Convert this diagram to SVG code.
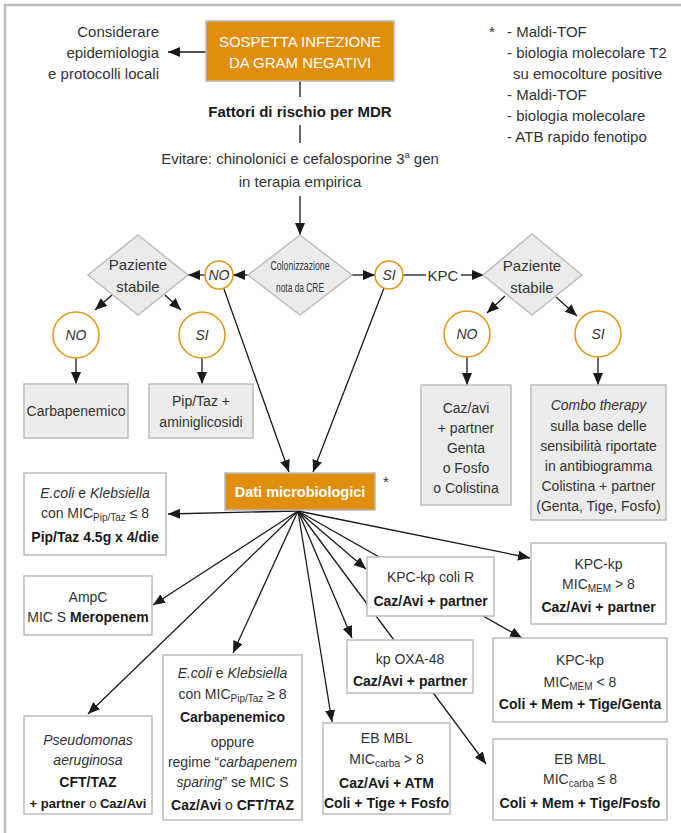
<svg xmlns="http://www.w3.org/2000/svg" width="681" height="833" viewBox="0 0 681 833">
<defs>
<style>
.t{font-family:"Liberation Sans",Arial,sans-serif;font-size:14px;fill:#333;text-anchor:middle}
.s{font-size:15px}
.b{font-weight:bold;fill:#1a1a1a}
.i{font-style:italic}
.w{fill:#fff}
.sub{font-size:10px}
.box{fill:#fff;stroke:#bdbdbd;stroke-width:1.5}
.gbox{fill:#ececec;stroke:#bdbdbd;stroke-width:1.5}
.obox{fill:#E08E0B;stroke:#b8b8b8;stroke-width:1.5}
.circ{fill:#fff;stroke:#E39A1C;stroke-width:1.6}
.dia{fill:#ebebeb;stroke:#bdbdbd;stroke-width:1.5}
.ln{stroke:#1a1a1a;stroke-width:1.3;fill:none}
.frame{stroke:#bdbdbd;stroke-width:2.5;fill:none}
</style>
<marker id="ah" viewBox="0 0 12 10" refX="12" refY="5" markerWidth="12" markerHeight="10" markerUnits="userSpaceOnUse" orient="auto">
<path d="M0,0 L12,5 L0,10 z" fill="#1a1a1a"/>
</marker>
</defs>

<path class="frame" d="M5,833 L5,5 L681,5"/>

<g id="connectors">
<line class="ln" x1="206" y1="52" x2="168" y2="52" marker-end="url(#ah)"/>
<line class="ln" x1="300" y1="81" x2="300" y2="97"/>
<line class="ln" x1="300" y1="125" x2="300" y2="143"/>
<line class="ln" x1="300" y1="196" x2="300" y2="235" marker-end="url(#ah)"/>
<line class="ln" x1="248" y1="275" x2="233" y2="275" marker-end="url(#ah)"/>
<line class="ln" x1="205" y1="275" x2="188" y2="275" marker-end="url(#ah)"/>
<line class="ln" x1="352" y1="275" x2="375" y2="275" marker-end="url(#ah)"/>
<line class="ln" x1="403" y1="275" x2="426" y2="275"/>
<line class="ln" x1="461" y1="275" x2="484" y2="275" marker-end="url(#ah)"/>
<line class="ln" x1="112" y1="295" x2="95" y2="310" marker-end="url(#ah)"/>
<line class="ln" x1="165" y1="295" x2="181" y2="310" marker-end="url(#ah)"/>
<line class="ln" x1="505" y1="296" x2="487" y2="313" marker-end="url(#ah)"/>
<line class="ln" x1="556" y1="297" x2="577" y2="316" marker-end="url(#ah)"/>
<line class="ln" x1="76" y1="358" x2="76" y2="384" marker-end="url(#ah)"/>
<line class="ln" x1="202" y1="358" x2="202" y2="384" marker-end="url(#ah)"/>
<line class="ln" x1="467" y1="357" x2="467" y2="385" marker-end="url(#ah)"/>
<line class="ln" x1="598" y1="357" x2="598" y2="385" marker-end="url(#ah)"/>
<line class="ln" x1="219" y1="275" x2="289" y2="472" marker-end="url(#ah)"/>
<line class="ln" x1="389" y1="275" x2="313" y2="472" marker-end="url(#ah)"/>
<line class="ln" x1="298" y1="511" x2="168" y2="514" marker-end="url(#ah)"/>
<line class="ln" x1="298" y1="511" x2="153" y2="605" marker-end="url(#ah)"/>
<line class="ln" x1="298" y1="511" x2="88" y2="714" marker-end="url(#ah)"/>
<line class="ln" x1="298" y1="511" x2="233" y2="653" marker-end="url(#ah)"/>
<line class="ln" x1="298" y1="511" x2="332" y2="722" marker-end="url(#ah)"/>
<line class="ln" x1="298" y1="511" x2="352" y2="638" marker-end="url(#ah)"/>
<line class="ln" x1="298" y1="511" x2="486" y2="764" marker-end="url(#ah)"/>
<line class="ln" x1="298" y1="511" x2="366" y2="569" marker-end="url(#ah)"/>
<line class="ln" x1="298" y1="511" x2="522" y2="638" marker-end="url(#ah)"/>
<line class="ln" x1="298" y1="511" x2="530" y2="558" marker-end="url(#ah)"/>
</g>

<g id="n-start">
<rect class="obox" x="206" y="21" width="188" height="60"/>
<text class="t s w" x="300" y="47">SOSPETTA INFEZIONE</text>
<text class="t s w" x="300" y="68">DA GRAM NEGATIVI</text>
</g>

<g id="n-considerare">
<text class="t s" style="text-anchor:end" x="159" y="37">Considerare</text>
<text class="t s" style="text-anchor:end" x="159" y="58">epidemiologia</text>
<text class="t s" style="text-anchor:end" x="159" y="79">e protocolli locali</text>
</g>

<g id="n-fattori">
<text class="t s b" x="300" y="117">Fattori di rischio per MDR</text>
</g>

<g id="n-evitare">
<text class="t s" x="300" y="164">Evitare: chinolonici e cefalosporine 3<tspan font-size="9" dy="-6">a</tspan><tspan dy="6"> gen</tspan></text>
<text class="t s" x="300" y="187">in terapia empirica</text>
</g>

<g id="n-legend">
<text class="t s" style="text-anchor:start" x="489" y="37">*</text>
<text class="t s" style="text-anchor:start" x="507" y="37">- Maldi-TOF</text>
<text class="t s" style="text-anchor:start" x="507" y="58">- biologia molecolare T2</text>
<text class="t s" style="text-anchor:start" x="513" y="79">su emocolture positive</text>
<text class="t s" style="text-anchor:start" x="507" y="100">- Maldi-TOF</text>
<text class="t s" style="text-anchor:start" x="507" y="121">- biologia molecolare</text>
<text class="t s" style="text-anchor:start" x="507" y="142">- ATB rapido fenotipo</text>
</g>

<g id="n-colonizzazione">
<polygon class="dia" points="300,235 352,275 300,315 248,275"/>
<text class="t" style="font-size:13px" x="300" y="270" textLength="59" lengthAdjust="spacingAndGlyphs">Colonizzazione</text>
<text class="t" style="font-size:13px" x="300" y="292" textLength="48" lengthAdjust="spacingAndGlyphs">nota da CRE</text>
</g>

<g id="n-no-cre">
<circle class="circ" cx="219" cy="275" r="14"/>
<text class="t i" x="219" y="280">NO</text>
</g>

<g id="n-si-cre">
<circle class="circ" cx="389" cy="275" r="14"/>
<text class="t i" x="389" y="280">SI</text>
</g>

<g id="n-kpc">
<text class="t s" x="443" y="281">KPC</text>
</g>

<g id="n-stabile-left">
<polygon class="dia" points="138,235 188,275 138,315 88,275"/>
<text class="t s" x="138" y="270">Paziente</text>
<text class="t s" x="138" y="292">stabile</text>
</g>

<g id="n-stabile-right">
<polygon class="dia" points="532,234 582,275 532,315 483,275"/>
<text class="t s" x="532" y="271">Paziente</text>
<text class="t s" x="532" y="293">stabile</text>
</g>

<g id="n-no-left">
<circle class="circ" cx="76" cy="335" r="23"/>
<text class="t i" x="76" y="340">NO</text>
</g>
<g id="n-si-left">
<circle class="circ" cx="202" cy="335" r="23"/>
<text class="t i" x="202" y="340">SI</text>
</g>
<g id="n-no-right">
<circle class="circ" cx="467" cy="334" r="23"/>
<text class="t i" x="467" y="339">NO</text>
</g>
<g id="n-si-right">
<circle class="circ" cx="598" cy="334" r="23"/>
<text class="t i" x="598" y="339">SI</text>
</g>

<g id="n-carbapenemico">
<rect class="gbox" x="24" y="384" width="104" height="54"/>
<text class="t" x="76" y="416">Carbapenemico</text>
</g>

<g id="n-piptaz">
<rect class="gbox" x="149" y="384" width="104" height="54"/>
<text class="t" x="201" y="406">Pip/Taz +</text>
<text class="t" x="201" y="427">aminiglicosidi</text>
</g>

<g id="n-cazavi">
<rect class="gbox" x="421" y="385" width="90" height="120"/>
<text class="t" x="466" y="413">Caz/avi</text>
<text class="t" x="466" y="433">+ partner</text>
<text class="t" x="466" y="453">Genta</text>
<text class="t" x="466" y="473">o Fosfo</text>
<text class="t" x="466" y="493">o Colistina</text>
</g>

<g id="n-combo">
<rect class="gbox" x="531" y="385" width="135" height="135"/>
<text class="t i" x="598.5" y="410">Combo therapy</text>
<text class="t" x="598.5" y="431">sulla base delle</text>
<text class="t" x="598.5" y="451">sensibilità riportate</text>
<text class="t" x="598.5" y="471">in antibiogramma</text>
<text class="t" x="598.5" y="491">Colistina + partner</text>
<text class="t" x="598.5" y="511">(Genta, Tige, Fosfo)</text>
</g>

<g id="n-dati">
<rect class="obox" x="225" y="473" width="150" height="37"/>
<text class="t b w" style="font-size:14.5px;fill:#fff" x="300" y="497">Dati microbiologici</text>
<text class="t s" x="386" y="487">*</text>
</g>

<g id="n-ecoli1">
<rect class="box" x="24" y="473" width="142" height="82"/>
<text class="t" x="95" y="498"><tspan class="i">E.coli</tspan> e <tspan class="i">Klebsiella</tspan></text>
<text class="t" x="95" y="518">con MIC<tspan class="sub" dy="3">Pip/Taz</tspan><tspan dy="-3"> ≤ 8</tspan></text>
<text class="t b" x="95" y="542">Pip/Taz 4.5g x 4/die</text>
</g>

<g id="n-ampc">
<rect class="box" x="24" y="576" width="128" height="59"/>
<text class="t" x="88" y="602">AmpC</text>
<text class="t" x="88" y="622">MIC S <tspan class="b">Meropenem</tspan></text>
</g>

<g id="n-pseudomonas">
<rect class="box" x="24" y="716" width="128" height="98"/>
<text class="t i" x="88" y="745">Pseudomonas</text>
<text class="t i" x="88" y="765">aeruginosa</text>
<text class="t b" x="88" y="787">CFT/TAZ</text>
<text class="t" style="font-size:13px" x="88" y="808"><tspan class="b">+ partner</tspan> o <tspan class="b">Caz/Avi</tspan></text>
</g>

<g id="n-ecoli2">
<rect class="box" x="163" y="655" width="139" height="165"/>
<text class="t" x="232.5" y="678"><tspan class="i">E.coli</tspan> e <tspan class="i">Klebsiella</tspan></text>
<text class="t" x="232.5" y="699">con MIC<tspan class="sub" dy="3">Pip/Taz</tspan><tspan dy="-3"> ≥ 8</tspan></text>
<text class="t b" x="232.5" y="722">Carbapenemico</text>
<text class="t" x="232.5" y="747">oppure</text>
<text class="t" x="232.5" y="767">regime “<tspan class="i">carbapenem</tspan></text>
<text class="t" x="232.5" y="787"><tspan class="i">sparing</tspan>” se MIC S</text>
<text class="t" x="232.5" y="810"><tspan class="b">Caz/Avi</tspan> o <tspan class="b">CFT/TAZ</tspan></text>
</g>

<g id="n-ebmbl-high">
<rect class="box" x="323" y="723" width="127" height="91"/>
<text class="t" x="386.5" y="743">EB MBL</text>
<text class="t" x="386.5" y="764">MIC<tspan class="sub" dy="3">carba</tspan><tspan dy="-3"> &gt; 8</tspan></text>
<text class="t b" x="386.5" y="788">Caz/Avi + ATM</text>
<text class="t b" x="386.5" y="808">Coli + Tige + Fosfo</text>
</g>

<g id="n-oxa48">
<rect class="box" x="347" y="640" width="126" height="53"/>
<text class="t" x="410" y="664">kp OXA-48</text>
<text class="t b" x="410" y="686">Caz/Avi + partner</text>
</g>

<g id="n-kpc-colir">
<rect class="box" x="367" y="557" width="127" height="59"/>
<text class="t" x="430.5" y="582">KPC-kp coli R</text>
<text class="t b" x="430.5" y="606">Caz/Avi + partner</text>
</g>

<g id="n-kpc-high">
<rect class="box" x="531" y="543" width="135" height="81"/>
<text class="t" x="598.5" y="569">KPC-kp</text>
<text class="t" x="598.5" y="589">MIC<tspan class="sub" dy="3">MEM</tspan><tspan dy="-3"> &gt; 8</tspan></text>
<text class="t b" x="598.5" y="612">Caz/Avi + partner</text>
</g>

<g id="n-kpc-low">
<rect class="box" x="493" y="638" width="174" height="84"/>
<text class="t" x="580" y="665">KPC-kp</text>
<text class="t" x="580" y="687">MIC<tspan class="sub" dy="3">MEM</tspan><tspan dy="-3"> &lt; 8</tspan></text>
<text class="t b" x="580" y="709">Coli + Mem + Tige/Genta</text>
</g>

<g id="n-ebmbl-low">
<rect class="box" x="493" y="739" width="174" height="81"/>
<text class="t" x="580" y="764">EB MBL</text>
<text class="t" x="580" y="784">MIC<tspan class="sub" dy="3">carba</tspan><tspan dy="-3"> ≤ 8</tspan></text>
<text class="t b" x="580" y="808">Coli + Mem + Tige/Fosfo</text>
</g>
</svg>
